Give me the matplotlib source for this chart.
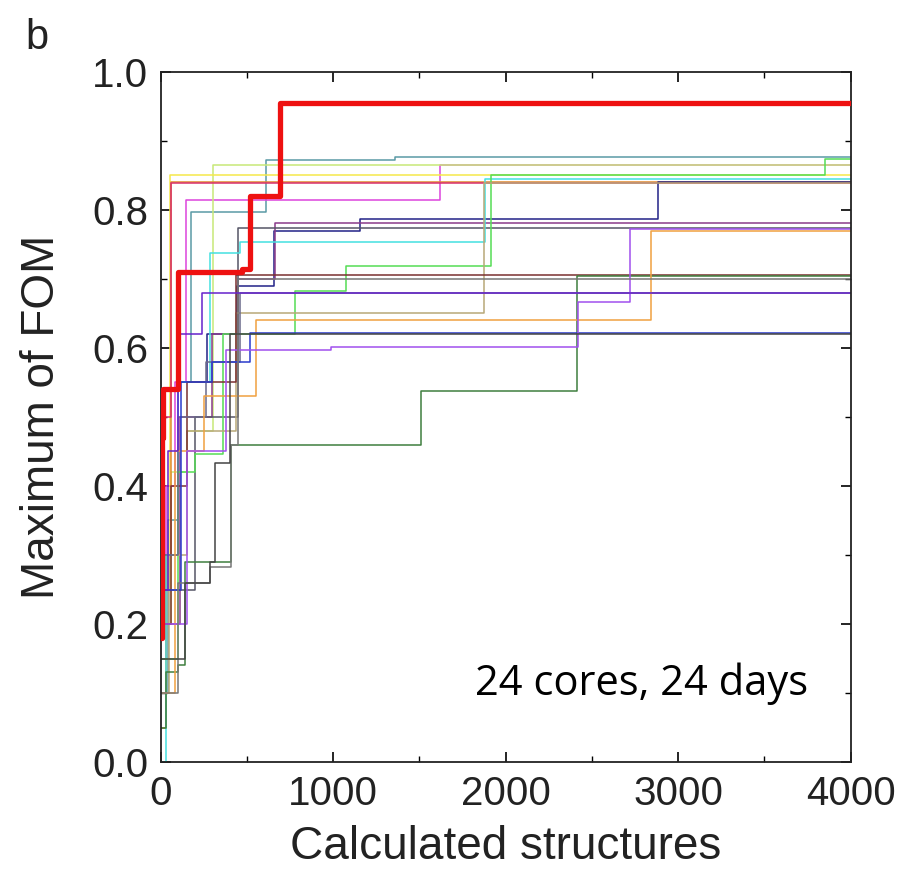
import matplotlib
matplotlib.use("Agg")
import matplotlib.pyplot as plt
from matplotlib.ticker import MultipleLocator

# Each run: step positions (x) and running maximum of FOM (y)
runs = {
    "red":       ([0, 5, 15, 100, 470, 516, 690, 4000], [0.18, 0.47, 0.54, 0.71, 0.715, 0.82, 0.955, 0.955]),
    "teal":      ([0, 40, 100, 178, 609, 1357, 4000], [0.10, 0.35, 0.55, 0.797, 0.872, 0.877, 0.877]),
    "magenta":   ([0, 30, 80, 149, 1621, 4000], [0.15, 0.40, 0.55, 0.814, 0.865, 0.865]),
    "palegreen": ([0, 60, 150, 302, 4000], [0.20, 0.42, 0.48, 0.865, 0.865]),
    "yellow":    ([0, 30, 52, 4000], [0.20, 0.25, 0.851, 0.851]),
    "orange1":   ([0, 30, 62, 4000], [0.05, 0.30, 0.84, 0.84]),
    "crimson":   ([0, 10, 62, 4000], [0.35, 0.50, 0.839, 0.839]),
    "navy":      ([0, 100, 270, 440, 656, 1154, 2881, 4000], [0.30, 0.55, 0.62, 0.69, 0.769, 0.786, 0.84, 0.84]),
    "purple1":   ([0, 110, 300, 446, 661, 4000], [0.20, 0.50, 0.62, 0.70, 0.781, 0.781]),
    "slate":     ([0, 200, 446, 4000], [0.25, 0.50, 0.774, 0.774]),
    "cyan":      ([0, 30, 100, 284, 458, 1880, 4000], [0.0, 0.30, 0.55, 0.737, 0.753, 0.845, 0.845]),
    "lime":      ([0, 100, 200, 360, 777, 1076, 1917, 3850, 4000], [0.15, 0.42, 0.447, 0.62, 0.682, 0.718, 0.851, 0.874, 0.874]),
    "tan":       ([0, 50, 150, 439, 1872, 4000], [0.10, 0.30, 0.48, 0.651, 0.839, 0.839]),
    "brown":     ([0, 60, 150, 435, 4000], [0.20, 0.40, 0.55, 0.706, 0.706]),
    "darkgreen": ([0, 30, 100, 139, 410, 1511, 2412, 4000], [0.05, 0.13, 0.14, 0.29, 0.459, 0.538, 0.704, 0.704]),
    "greypurple":([0, 100, 260, 458, 4000], [0.30, 0.50, 0.58, 0.680, 0.680]),
    "orange2":   ([0, 80, 250, 555, 2840, 4000], [0.10, 0.45, 0.53, 0.641, 0.770, 0.770]),
    "blue":      ([0, 120, 300, 516, 4000], [0.25, 0.55, 0.58, 0.622, 0.622]),
    "violet":    ([0, 150, 381, 990, 2418, 2719, 4000], [0.20, 0.45, 0.597, 0.602, 0.667, 0.772, 0.772]),
    "grey":      ([0, 100, 284, 406, 446, 4000], [0.10, 0.26, 0.283, 0.46, 0.70, 0.70]),
    "dimgrey":   ([0, 139, 284, 313, 400, 4000], [0.15, 0.26, 0.29, 0.433, 0.62, 0.62]),
    "brightpurple": ([0, 40, 100, 240, 4000], [0.25, 0.45, 0.62, 0.68, 0.68]),
}

colors = {
    "red": "#ee1111", "teal": "#5a9aa5", "magenta": "#dd44dd", "palegreen": "#c8e878",
    "yellow": "#f5e84a", "orange1": "#e08a30", "crimson": "#d8306a", "navy": "#222288",
    "purple1": "#8a3a8a", "slate": "#555566", "cyan": "#44e0e0", "lime": "#55dd55",
    "tan": "#b8a878", "brown": "#7a3030", "darkgreen": "#3e7e3e", "greypurple": "#6a6a8a",
    "orange2": "#f0a040", "blue": "#2a3acc", "violet": "#a050ee", "grey": "#777777",
    "dimgrey": "#444444", "brightpurple": "#6622cc",
}

x_ticks = [0, 1000, 2000, 3000, 4000]
y_ticks = [0.0, 0.2, 0.4, 0.6, 0.8, 1.0]
y_tick_labels = ["0.0", "0.2", "0.4", "0.6", "0.8", "1.0"]

plt.rcParams['font.family'] = ['Liberation Sans', 'DejaVu Sans']

fig = plt.figure(figsize=(9.03, 8.75), dpi=100)
ax = fig.add_axes([0.178, 0.129, 0.764, 0.789])

order = [k for k in runs if k != "red"] + ["red"]
for name in order:
    xs, ys = runs[name]
    lw = 3.8 if name == "red" else 1.1
    ax.plot(xs, ys, drawstyle="steps-post", color=colors[name], lw=lw,
            zorder=3 if name == "red" else 2)

ax.set_xlim(0, 4000)
ax.set_ylim(0, 1.0)
ax.set_xticks(x_ticks)
ax.set_yticks(y_ticks)
ax.set_yticklabels(y_tick_labels)
ax.xaxis.set_minor_locator(MultipleLocator(500))
ax.yaxis.set_minor_locator(MultipleLocator(0.1))
ax.tick_params(which="both", direction="in", top=True, right=True, labelsize=29, pad=9,
               labelcolor="#222222")
ax.tick_params(which="major", length=7, width=1.2)
ax.tick_params(which="minor", length=4, width=1.0)
for s in ax.spines.values():
    s.set_linewidth(1.3)
    s.set_color("#222222")

ax.set_xlabel("Calculated structures", fontsize=33, labelpad=9, color="#222222")
ax.set_ylabel("Maximum of FOM", fontsize=33, labelpad=20, color="#222222")

ax.text(0.455, 0.113, "24 cores, 24 days", transform=ax.transAxes,
        fontsize=30, family=["Open Sans", "DejaVu Sans"], ha="left", va="center")
fig.text(0.028, 0.957, "b", fontsize=30, ha="left", va="center", color="#222222")

fig.savefig("out.png", dpi=100)
